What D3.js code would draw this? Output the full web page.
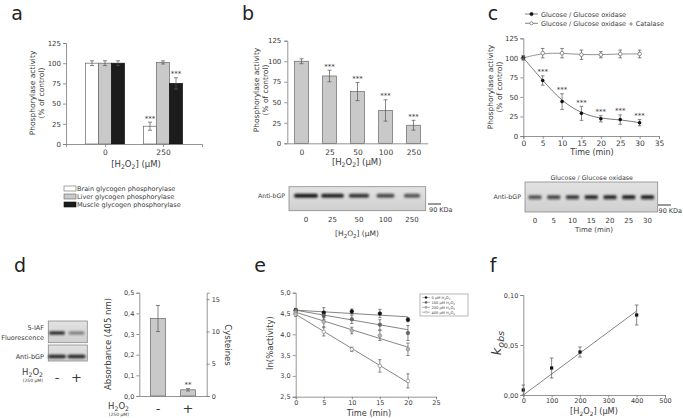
<!DOCTYPE html>
<html><head><meta charset="utf-8">
<script src="https://cdn.jsdelivr.net/npm/d3@7"></script>
<style>body{margin:0;background:#fff}svg{display:block}</style>
</head><body><svg id="c" width="683" height="418"></svg>
<script>
// ---------- DATA ----------
const aGroups = ["0", "250"];
const aSeries = ["Brain glycogen phosphorylase", "Liver glycogen phosphorylase", "Muscle glycogen phosphorylase"];
const aValues = [[100, 22], [100, 101], [100, 75]];
const aErrors = [[3, 5], [3, 2], [3, 7]];
const aStars = [["", "***"], ["", ""], ["", "***"]];
const pctTicks = [0, 25, 50, 75, 100, 125];

const bConc = ["0", "25", "50", "100", "250"];
const bValues = [100, 82, 63, 40, 22];
const bErrors = [3, 7, 11, 13, 6];
const bStars = ["", "***", "***", "***", "***"];
const bBandIntensity = [1, 0.95, 0.85, 0.75, 0.68];

const cTime = [0, 5, 10, 15, 20, 25, 30];
const cSeries = ["Glucose / Glucose oxidase", "Glucose / Glucose oxidase + Catalase"];
const cGGO = [100, 71, 44, 29, 22, 21, 17];
const cGGOErr = [2, 6, 10, 9, 4, 6, 4];
const cGGOStars = ["", "***", "***", "***", "***", "***", "***"];
const cCat = [100, 106, 106, 104, 104, 105, 105];
const cCatErr = [3, 6, 6, 6, 4, 5, 5];
const cXTicks = [0, 5, 10, 15, 20, 25, 30, 35];
const cBandIntensity = [0.7, 0.78, 0.85, 0.95, 0.95, 1, 1];

const dCond = ["-", "+"];
const dAbs = [0.375, 0.03];
const dAbsErr = [0.063, 0.006];
const dStars = ["", "**"];
const dAbsTicks = [0, 0.1, 0.2, 0.3, 0.4, 0.5];
const dCysTicks = [0, 5, 10, 15];
const dIAFIntensity = [0.9, 0.45];
const dBGPIntensity = [0.95, 0.95];

const eTime = [0, 5, 10, 15, 20];
const eSeries = ["0 µM H_2O_2", "100 µM H_2O_2", "200 µM H_2O_2", "400 µM H_2O_2"];
const eValues = [
  [4.58, 4.52, 4.55, 4.50, 4.35],
  [4.57, 4.45, 4.36, 4.23, 4.03],
  [4.53, 4.30, 4.09, 3.97, 3.64],
  [4.48, 4.06, 3.64, 3.24, 2.88]
];
const eErrors = [
  [0.04, 0.12, 0.06, 0.10, 0.05],
  [0.05, 0.10, 0.10, 0.12, 0.18],
  [0.05, 0.12, 0.08, 0.12, 0.15],
  [0.05, 0.10, 0.05, 0.15, 0.17]
];
const eFitStart = [4.58, 4.58, 4.53, 4.48];
const eFitEnd = [4.42, 4.11, 3.69, 2.84];
const eXTicks = [0, 5, 10, 15, 20, 25];
const eYTicks = [2.5, 3.0, 3.5, 4.0, 4.5, 5.0];

const fConc = [0, 100, 200, 400];
const fK = [0.005, 0.027, 0.043, 0.080];
const fKErr = [0.005, 0.010, 0.005, 0.010];
const fFitConc = [0, 400];
const fFitK = [0, 0.084];
const fXTicks = [0, 100, 200, 300, 400, 500];
const fYTicks = [0, 0.05, 0.10];

// ---------- HELPERS ----------
const FONT = '"DejaVu Sans", Verdana, sans-serif';
const TXT = "#3a3a3a", AX = "#7a7a7a", BAR = "#c9c9c9", BARS = "#666";
const svg = d3.select("#c");
svg.append("rect").attr("width", 683).attr("height", 418).attr("fill", "#fff");
const defs = svg.append("defs");
defs.append("filter").attr("id", "blur").attr("x", "-30%").attr("y", "-100%").attr("width", "160%").attr("height", "300%")
  .append("feGaussianBlur").attr("stdDeviation", 0.8);
defs.append("linearGradient").attr("id", "blotbg").attr("x1", 0).attr("y1", 0).attr("x2", 0).attr("y2", 1)
  .selectAll("stop").data([["0%", "#e2e2e2"], ["100%", "#d0d0d0"]]).join("stop")
  .attr("offset", d => d[0]).attr("stop-color", d => d[1]);

const comma = f => v => d3.format(f)(v).replace(".", ",");

function rich(sel, str, size) {
  const parts = str.split(/(_\w)/).filter(s => s.length);
  let sub = false;
  parts.forEach(p => {
    if (p[0] === "_") {
      sel.append("tspan").attr("font-size", size * 0.72).attr("dy", sub ? 0 : size * 0.28).text(p[1]);
      sub = true;
    } else {
      sel.append("tspan").attr("dy", sub ? -size * 0.28 : 0).text(p);
      sub = false;
    }
  });
  return sel;
}
function text(g, x, y, str, size, anchor, opts = {}) {
  const t = g.append("text").attr("x", x).attr("y", y).attr("font-size", size)
    .attr("font-family", FONT).attr("fill", opts.fill || TXT).attr("text-anchor", anchor || "middle");
  if (opts.rotate) t.attr("transform", `rotate(${opts.rotate},${x},${y})`);
  if (opts.style) t.attr("font-style", opts.style);
  if (opts.weight) t.attr("font-weight", opts.weight);
  return rich(t, str, size);
}
function styleAxis(g, size) {
  g.attr("font-size", size).attr("font-family", FONT);
  g.select(".domain").attr("stroke", AX).attr("stroke-width", 0.8);
  g.selectAll(".tick line").attr("stroke", AX).attr("stroke-width", 0.8);
  g.selectAll(".tick text").attr("fill", TXT);
}
function errBar(g, x, y1, y2, cap) {
  g.append("line").attr("x1", x).attr("x2", x).attr("y1", y1).attr("y2", y2).attr("stroke", "#555").attr("stroke-width", 0.7);
  [y1, y2].forEach(y => g.append("line").attr("x1", x - cap).attr("x2", x + cap).attr("y1", y).attr("y2", y).attr("stroke", "#555").attr("stroke-width", 0.7));
}
function band(g, cx, cy, w, h, intensity) {
  g.append("rect").attr("x", cx - w / 2).attr("y", cy - h / 2).attr("width", w).attr("height", h).attr("rx", h / 2)
    .attr("fill", "#1c1c1c").attr("opacity", intensity).attr("filter", "url(#blur)");
}
function blotBox(g, x, y, w, h) {
  g.append("rect").attr("x", x).attr("y", y).attr("width", w).attr("height", h)
    .attr("fill", "url(#blotbg)").attr("stroke", "#8a8a8a").attr("stroke-width", 0.8);
}

// panel letters
[["a", 17, 20], ["b", 248, 20], ["c", 493, 20], ["d", 20, 272], ["e", 260, 272], ["f", 493, 272]]
  .forEach(d => text(svg, d[1], d[2], d[0], 19, "middle", { fill: "#222" }));

// ---------- PANEL A ----------
{
  const g = svg.append("g");
  const x = d3.scalePoint(aGroups, [66, 202]).padding(0.672);
  const xs = d3.scaleBand(aSeries, [-19.5, 19.5]);
  const y = d3.scaleLinear([0, 125], [144, 43]);
  const fills = ["#fff", BAR, "#1c1c1c"];
  aSeries.forEach((s, i) => {
    aGroups.forEach((grp, j) => {
      const v = aValues[i][j], cx = x(grp) + xs(s);
      g.append("rect").attr("x", cx).attr("y", y(v)).attr("width", xs.bandwidth()).attr("height", y(0) - y(v))
        .attr("fill", fills[i]).attr("stroke", i === 2 ? "#111" : BARS).attr("stroke-width", 0.7);
      const m = cx + xs.bandwidth() / 2;
      errBar(g, m, y(v + aErrors[i][j]), y(v - aErrors[i][j]), 2);
      if (aStars[i][j]) text(g, m, y(v + aErrors[i][j]) - 1.5, aStars[i][j], 7);
    });
  });
  g.append("g").attr("transform", "translate(66,0)").call(d3.axisLeft(y).tickValues(pctTicks).tickSize(3).tickPadding(2)).call(a => styleAxis(a, 7));
  g.append("g").attr("transform", "translate(0,144)").call(d3.axisBottom(x).tickSize(3).tickPadding(3)).call(a => styleAxis(a, 7.5));
  text(g, 35, 93, "Phosphorylase activity", 7.5, "middle", { rotate: -90 });
  text(g, 44, 93, "(% of control)", 7.5, "middle", { rotate: -90 });
  text(g, 136, 167, "[H_2O_2] (µM)", 8.5);
  aSeries.forEach((s, i) => {
    const yy = 186 + i * 8;
    g.append("rect").attr("x", 64).attr("y", yy).attr("width", 12).attr("height", 5)
      .attr("fill", fills[i]).attr("stroke", i === 2 ? "#111" : BARS).attr("stroke-width", 0.6);
    text(g, 77, yy + 5, s, 6.5, "start");
  });
}

// ---------- PANEL B ----------
{
  const g = svg.append("g");
  const x = d3.scalePoint(bConc, [287.3, 427.7]).padding(0.507);
  const y = d3.scaleLinear([0, 125], [143.3, 40.7]);
  const bw = 13.7;
  bConc.forEach((c, i) => {
    const v = bValues[i];
    g.append("rect").attr("x", x(c) - bw / 2).attr("y", y(v)).attr("width", bw).attr("height", y(0) - y(v))
      .attr("fill", BAR).attr("stroke", BARS).attr("stroke-width", 0.7);
    errBar(g, x(c), y(v + bErrors[i]), y(v - bErrors[i]), 2);
    if (bStars[i]) text(g, x(c), y(v + bErrors[i]) - 1.5, bStars[i], 7);
  });
  g.append("g").attr("transform", "translate(287.3,0)").call(d3.axisLeft(y).tickValues(pctTicks).tickSize(3).tickPadding(3)).call(a => styleAxis(a, 7));
  g.append("g").attr("transform", "translate(0,143.3)").call(d3.axisBottom(x).tickSize(0).tickPadding(6)).call(a => styleAxis(a, 7.5));
  text(g, 259, 90, "Phosphorylase activity", 7.5, "middle", { rotate: -90 });
  text(g, 268, 90, "(% of control)", 7.5, "middle", { rotate: -90 });
  text(g, 356.7, 165, "[H_2O_2] (µM)", 8.5);
  // western blot
  const lane = d3.scalePoint(bConc, [306, 412]);
  blotBox(g, 289, 186.7, 136.7, 24);
  bConc.forEach((c, i) => band(g, lane(c), 195.7, 24 * bBandIntensity[i], 4, bBandIntensity[i]));
  text(g, 285, 198, "Anti-bGP", 6.2, "end");
  g.append("line").attr("x1", 428).attr("x2", 441).attr("y1", 204).attr("y2", 204).attr("stroke", "#333").attr("stroke-width", 1);
  text(g, 429, 212, "90 KDa", 6.5, "start");
  bConc.forEach(c => text(g, lane(c), 221.5, c, 7));
  text(g, 357, 236, "[H_2O_2] (µM)", 7.5);
}

// ---------- PANEL C ----------
{
  const g = svg.append("g");
  const x = d3.scaleLinear([0, 35], [523.3, 659]);
  const y = d3.scaleLinear([0, 125], [136, 38.3]);
  const line = d3.line().x((d, i) => x(cTime[i])).y(d => y(d)).curve(d3.curveBasis);
  g.append("path").attr("d", line(cCat)).attr("fill", "none").attr("stroke", "#777").attr("stroke-width", 0.8);
  g.append("path").attr("d", line(cGGO)).attr("fill", "none").attr("stroke", "#555").attr("stroke-width", 0.8);
  cTime.forEach((t, i) => {
    errBar(g, x(t), y(cCat[i] + cCatErr[i]), y(cCat[i] - cCatErr[i]), 1.8);
    errBar(g, x(t), y(cGGO[i] + cGGOErr[i]), y(cGGO[i] - cGGOErr[i]), 1.8);
  });
  cTime.forEach((t, i) => {
    g.append("circle").attr("cx", x(t)).attr("cy", y(cCat[i])).attr("r", 1.8).attr("fill", "#fff").attr("stroke", "#666").attr("stroke-width", 0.7);
    g.append("circle").attr("cx", x(t)).attr("cy", y(cGGO[i])).attr("r", 1.8).attr("fill", "#111");
    if (cGGOStars[i]) text(g, x(t), y(cGGO[i] + cGGOErr[i]) - 1.5, cGGOStars[i], 7);
  });
  g.append("g").attr("transform", "translate(523.3,0)").call(d3.axisLeft(y).tickValues(pctTicks).tickSize(3).tickPadding(2)).call(a => styleAxis(a, 7));
  g.append("g").attr("transform", "translate(0,136)").call(d3.axisBottom(x).tickValues(cXTicks).tickSize(3).tickPadding(2)).call(a => styleAxis(a, 7.5));
  text(g, 493, 87, "Phosphorylase activity", 7.5, "middle", { rotate: -90 });
  text(g, 502, 87, "(% of control)", 7.5, "middle", { rotate: -90 });
  text(g, 592, 155, "Time (min)", 8);
  // legend
  cSeries.forEach((s, i) => {
    const yy = 14 + i * 9.3;
    g.append("line").attr("x1", 525).attr("x2", 538).attr("y1", yy).attr("y2", yy).attr("stroke", "#666").attr("stroke-width", 0.8);
    g.append("circle").attr("cx", 531.5).attr("cy", yy).attr("r", 1.6)
      .attr("fill", i === 0 ? "#111" : "#fff").attr("stroke", i === 0 ? "#111" : "#666").attr("stroke-width", 0.7);
    text(g, 541, yy + 2.5, s, 6.5, "start");
  });
  // western blot
  const lane = d3.scalePoint(cTime.map(String), [535, 647.5]);
  text(g, 591.7, 179.5, "Glucose / Glucose oxidase", 6.3);
  blotBox(g, 525, 182, 132.7, 30);
  cTime.forEach((t, i) => {
    band(g, lane(String(t)), 197, 13.5, 3.6, cBandIntensity[i]);
    band(g, lane(String(t)), 199, 13, 2.2, cBandIntensity[i] * 0.35);
  });
  text(g, 521, 199, "Anti-bGP", 6.3, "end");
  g.append("line").attr("x1", 658).attr("x2", 671).attr("y1", 205).attr("y2", 205).attr("stroke", "#333").attr("stroke-width", 1);
  text(g, 658.5, 212.5, "90 KDa", 6.5, "start");
  cTime.forEach(t => text(g, lane(String(t)), 222.5, String(t), 7));
  text(g, 594, 232, "Time (min)", 7);
}

// ---------- PANEL D ----------
{
  const g = svg.append("g");
  // blots
  const lane = d3.scalePoint(dCond, [57, 76.5]);
  blotBox(g, 48.3, 321, 39, 21.7);
  blotBox(g, 48.3, 345, 39, 16);
  dCond.forEach((c, i) => {
    band(g, lane(c), 333, 16, 3.5, dIAFIntensity[i]);
    band(g, lane(c), 356.5, 18, 3.6, dBGPIntensity[i]);
  });
  text(g, 44, 329.5, "5-IAF", 6.5, "end");
  text(g, 44, 340, "Fluorescence", 6.5, "end");
  text(g, 44, 358.5, "Anti-bGP", 6.5, "end");
  text(g, 43, 374.5, "H_2O_2", 8.5, "end");
  text(g, 43, 382, "(250 µM)", 4.5, "end");
  dCond.forEach(c => text(g, lane(c), 382, c, 13));
  // bar chart
  const x = d3.scalePoint(dCond, [139.3, 206.7]).padding(0.623);
  const y = d3.scaleLinear([0, 0.5], [396, 292.7]);
  const y2 = d3.scaleLinear([0, 16], [396, 292.7]);
  const bw = 14.7;
  dCond.forEach((c, i) => {
    const v = dAbs[i];
    g.append("rect").attr("x", x(c) - bw / 2).attr("y", y(v)).attr("width", bw).attr("height", y(0) - y(v))
      .attr("fill", BAR).attr("stroke", BARS).attr("stroke-width", 0.7);
    errBar(g, x(c), y(v + dAbsErr[i]), y(v - dAbsErr[i]), 2);
    if (dStars[i]) text(g, x(c), y(v + dAbsErr[i]) - 1.5, dStars[i], 7);
  });
  g.append("g").attr("transform", "translate(139.3,0)").call(d3.axisLeft(y).tickValues(dAbsTicks).tickFormat(comma(".1f")).tickSize(3).tickPadding(2)).call(a => styleAxis(a, 6.5));
  g.append("g").attr("transform", "translate(206.7,0)").call(d3.axisRight(y2).tickValues(dCysTicks).tickSize(3).tickPadding(2)).call(a => styleAxis(a, 6.5));
  g.append("g").attr("transform", "translate(0,396)").call(d3.axisBottom(x).tickSize(0).tickFormat(() => "")).call(a => styleAxis(a, 6.5));
  text(g, 111, 344, "Absorbance (405 nm)", 8.5, "middle", { rotate: -90 });
  text(g, 225, 345, "Cysteines", 8.5, "middle", { rotate: 90 });
  text(g, 129, 408.5, "H_2O_2", 8.5, "end");
  text(g, 129, 416, "(250 µM)", 4.5, "end");
  dCond.forEach(c => text(g, x(c), 413, c, 13));
}

// ---------- PANEL E ----------
{
  const g = svg.append("g");
  const x = d3.scaleLinear([0, 25], [295.7, 436]);
  const y = d3.scaleLinear([2.5, 5.0], [396.7, 292.7]);
  const mk = [
    { fill: "#111", stroke: "#111" },
    { fill: "#666", stroke: "#555" },
    { fill: "#bbb", stroke: "#777" },
    { fill: "#fff", stroke: "#777" }
  ];
  eSeries.forEach((s, i) => {
    g.append("line").attr("x1", x(eTime[0])).attr("x2", x(eTime[eTime.length - 1]))
      .attr("y1", y(eFitStart[i])).attr("y2", y(eFitEnd[i])).attr("stroke", "#666").attr("stroke-width", 0.8);
    eTime.forEach((t, j) => errBar(g, x(t), y(eValues[i][j] + eErrors[i][j]), y(eValues[i][j] - eErrors[i][j]), 1.6));
  });
  eSeries.forEach((s, i) => {
    eTime.forEach((t, j) => g.append("circle").attr("cx", x(t)).attr("cy", y(eValues[i][j])).attr("r", 1.8)
      .attr("fill", mk[i].fill).attr("stroke", mk[i].stroke).attr("stroke-width", 0.6));
  });
  g.append("g").attr("transform", "translate(295.7,0)").call(d3.axisLeft(y).tickValues(eYTicks).tickFormat(comma(".1f")).tickSize(3).tickPadding(2)).call(a => styleAxis(a, 6.5));
  g.append("g").attr("transform", "translate(0,396.7)").call(d3.axisBottom(x).tickValues(eXTicks).tickSize(2.5).tickPadding(1)).call(a => styleAxis(a, 6.5));
  text(g, 273, 343, "ln(%activity)", 8.5, "middle", { rotate: -90 });
  text(g, 369, 415.5, "Time (min)", 8.2);
  // legend
  g.append("rect").attr("x", 420).attr("y", 294).attr("width", 48).attr("height", 22).attr("fill", "#fff").attr("stroke", "#888").attr("stroke-width", 0.6);
  eSeries.forEach((s, i) => {
    const yy = 297.5 + i * 4.9;
    g.append("line").attr("x1", 422).attr("x2", 430).attr("y1", yy).attr("y2", yy).attr("stroke", "#666").attr("stroke-width", 0.5);
    g.append("circle").attr("cx", 426).attr("cy", yy).attr("r", 1.1).attr("fill", mk[i].fill).attr("stroke", mk[i].stroke).attr("stroke-width", 0.4);
    text(g, 431.5, yy + 1.4, s, 3.6, "start");
  });
}

// ---------- PANEL F ----------
{
  const g = svg.append("g");
  const x = d3.scaleLinear([0, 500], [523.3, 665]);
  const y = d3.scaleLinear([0, 0.10], [395, 295]);
  g.append("line").attr("x1", x(fFitConc[0])).attr("x2", x(fFitConc[1])).attr("y1", y(fFitK[0])).attr("y2", y(fFitK[1]))
    .attr("stroke", "#666").attr("stroke-width", 0.8);
  fConc.forEach((c, i) => {
    errBar(g, x(c), y(fK[i] + fKErr[i]), y(fK[i] - fKErr[i]), 1.8);
    g.append("rect").attr("x", x(c) - 1.6).attr("y", y(fK[i]) - 1.6).attr("width", 3.2).attr("height", 3.2).attr("fill", "#111");
  });
  g.append("g").attr("transform", "translate(523.3,0)").call(d3.axisLeft(y).tickValues(fYTicks).tickFormat(comma(".2f")).tickSize(3).tickPadding(2)).call(a => styleAxis(a, 6.5));
  g.append("g").attr("transform", "translate(0,395)").call(d3.axisBottom(x).tickValues(fXTicks).tickSize(2.5).tickPadding(1)).call(a => styleAxis(a, 6.5));
  const t = g.append("text").attr("transform", "translate(501,343) rotate(-90)").attr("text-anchor", "middle")
    .attr("font-family", FONT).attr("fill", TXT);
  t.append("tspan").attr("font-size", 13).attr("font-style", "italic").text("k");
  t.append("tspan").attr("font-size", 9.5).attr("font-style", "italic").attr("dy", 3).text("obs");
  text(g, 594, 413.5, "[H_2O_2] (µM)", 8.2);
}
</script></body></html>
